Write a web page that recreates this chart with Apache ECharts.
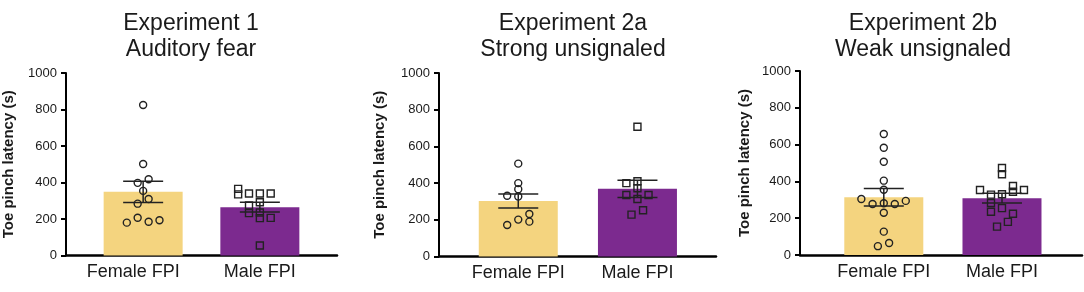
<!DOCTYPE html>
<html>
<head>
<meta charset="utf-8">
<script src="https://cdn.jsdelivr.net/npm/echarts@6/dist/echarts.min.js"></script>
<style>
  html, body { margin: 0; padding: 0; background: #fff; }
  #chart { width: 1084px; height: 292px; }
</style>
</head>
<body>
<div id="chart"></div>
<script>
// ---------- data ----------
const categories = ['Female FPI', 'Male FPI'];
const panelTitles = ['Experiment 1\nAuditory fear', 'Experiment 2a\nStrong unsignaled', 'Experiment 2b\nWeak unsignaled'];
const yAxisName = 'Toe pinch latency (s)';
const yMin = 0, yMax = 1000, yStep = 200;

// bar means and SEM
const exp1Means = [349, 265];
const exp1Sem = [58, 27];
const exp2aMeans = [302, 369];
const exp2aSem = [38, 47];
const exp2bMeans = [314, 309];
const exp2bSem = [48, 26];

// individual animals: values and horizontal jitter (in category units)
const exp1FemaleValues = [825, 501, 398, 418, 354, 310, 284, 180, 207, 185, 193];
const exp1FemaleJitter = [0, 0, -0.047, 0.047, 0, 0.047, -0.047, -0.14, -0.047, 0.047, 0.14];
const exp1MaleValues = [365, 335, 340, 340, 340, 292, 274, 232, 236, 205, 206, 55];
const exp1MaleJitter = [-0.186, -0.186, -0.093, 0, 0.093, 0, -0.093, -0.093, 0, 0, 0.093, 0];

const exp2aFemaleValues = [506, 400, 367, 331, 327, 232, 190, 201, 172];
const exp2aFemaleJitter = [0, 0, 0, -0.093, 0, 0.093, 0.093, 0, -0.093];
const exp2aMaleValues = [707, 400, 410, 372, 335, 313, 335, 228, 252];
const exp2aMaleJitter = [0, -0.093, 0, 0, -0.093, 0, 0.093, -0.05, 0.047];

const exp2bFemaleValues = [658, 583, 507, 404, 355, 304, 277, 281, 277, 294, 230, 127, 48, 65];
const exp2bFemaleJitter = [0, 0, 0, 0, 0, -0.19, -0.095, 0, 0.093, 0.186, 0, 0, -0.05, 0.045];
const exp2bMaleValues = [473, 439, 353, 328, 330, 375, 344, 353, 283, 255, 235, 224, 180, 154];
const exp2bMaleJitter = [0, 0, -0.186, -0.093, 0, 0.093, 0.093, 0.186, -0.093, 0, -0.093, 0.093, 0.05, -0.042];

// ---------- styling / layout ----------
const FONT = '"Liberation Sans", Arial, Helvetica, sans-serif';
const TEXT = '#1a1a1a';
const FEMALE_COLOR = '#F4D47F';
const MALE_COLOR = '#7C2A8F';
const POINT_COLOR = '#222';

const panels = [
  { title: panelTitles[0], means: exp1Means, sem: exp1Sem,
    fv: exp1FemaleValues, fj: exp1FemaleJitter, mv: exp1MaleValues, mj: exp1MaleJitter,
    grid: { left: 63, top: 73, width: 274, height: 182.5 }, xMin: -0.661, xMax: 1.661,
    titleX: 186, nameGap: 50, shiftFirst: 20 },
  { title: panelTitles[1], means: exp2aMeans, sem: exp2aSem,
    fv: exp2aFemaleValues, fj: exp2aFemaleJitter, mv: exp2aMaleValues, mj: exp2aMaleJitter,
    grid: { left: 439, top: 73, width: 277, height: 183.5 }, xMin: -0.665, xMax: 1.659,
    titleX: 568, nameGap: 52, shiftFirst: 0 },
  { title: panelTitles[2], means: exp2bMeans, sem: exp2bSem,
    fv: exp2bFemaleValues, fj: exp2bFemaleJitter, mv: exp2bMaleValues, mj: exp2bMaleJitter,
    grid: { left: 800, top: 71, width: 282, height: 184 }, xMin: -0.709, xMax: 1.677,
    titleX: 918, nameGap: 48, shiftFirst: 0 }
];

const option = {
  animation: false,
  backgroundColor: '#fff',
  title: [], grid: [], xAxis: [], yAxis: [], series: []
};

panels.forEach((p, i) => {
  option.title.push({
    text: p.title, left: p.titleX, top: 6, textAlign: 'center',
    textStyle: { fontFamily: FONT, fontSize: 23, fontWeight: 'normal', color: TEXT, lineHeight: 26 }
  });
  option.grid.push(Object.assign({ containLabel: false }, p.grid));
  option.xAxis.push({
    type: 'value', gridIndex: i, min: p.xMin, max: p.xMax,
    splitLine: { show: false },
    axisLine: { show: true, onZero: false, lineStyle: { color: '#000', width: 2.5 } },
    axisTick: { show: false },
    axisLabel: {
      customValues: [0, 1],
      margin: 8,
      fontFamily: FONT, fontSize: 18, color: TEXT,
      formatter: (v) => {
        const idx = Math.round(v);
        if (idx === 0 && p.shiftFirst) return '{s|' + categories[0] + '}';
        return categories[idx] || '';
      },
      rich: { s: { fontFamily: FONT, fontSize: 18, color: TEXT, padding: [0, p.shiftFirst, 0, 0] } }
    }
  });
  option.yAxis.push({
    type: 'value', gridIndex: i, min: yMin, max: yMax, interval: yStep,
    name: yAxisName, nameLocation: 'middle', nameGap: p.nameGap, nameRotate: 90,
    nameTextStyle: { fontFamily: FONT, fontSize: 15, fontWeight: 'bold', color: TEXT },
    splitLine: { show: false },
    axisLine: { show: true, onZero: false, lineStyle: { color: '#000', width: 2 } },
    axisTick: { show: true, length: 5, lineStyle: { color: '#000', width: 2 } },
    axisLabel: { fontFamily: FONT, fontSize: 13, color: TEXT, margin: 9, formatter: (v) => String(v) }
  });

  // bars
  option.series.push({
    type: 'bar', xAxisIndex: i, yAxisIndex: i, barWidth: 79, z: 1,
    data: p.means.map((m, k) => ({ value: [k, m], itemStyle: { color: k === 0 ? FEMALE_COLOR : MALE_COLOR } }))
  });
  // error bars
  option.series.push({
    type: 'custom', xAxisIndex: i, yAxisIndex: i, z: 3,
    data: p.means.map((m, k) => [k, m, p.sem[k]]),
    renderItem: (params, api) => {
      const x = api.value(0), m = api.value(1), s = api.value(2);
      const top = api.coord([x, m + s]);
      const bot = api.coord([x, m - s]);
      const hw = 20;
      const st = { stroke: '#222', lineWidth: 1.5 };
      return {
        type: 'group', children: [
          { type: 'line', shape: { x1: top[0], y1: top[1], x2: bot[0], y2: bot[1] }, style: st },
          { type: 'line', shape: { x1: top[0] - hw, y1: top[1], x2: top[0] + hw, y2: top[1] }, style: st },
          { type: 'line', shape: { x1: bot[0] - hw, y1: bot[1], x2: bot[0] + hw, y2: bot[1] }, style: st }
        ]
      };
    }
  });
  // female points
  option.series.push({
    type: 'scatter', xAxisIndex: i, yAxisIndex: i, z: 4,
    symbol: 'circle', symbolSize: 7,
    itemStyle: { color: 'rgba(0,0,0,0)', borderColor: POINT_COLOR, borderWidth: 1.4, opacity: 1 },
    data: p.fv.map((v, k) => [0 + p.fj[k], v])
  });
  // male points
  option.series.push({
    type: 'scatter', xAxisIndex: i, yAxisIndex: i, z: 4,
    symbol: 'rect', symbolSize: 7,
    itemStyle: { color: 'rgba(0,0,0,0)', borderColor: POINT_COLOR, borderWidth: 1.4, opacity: 1 },
    data: p.mv.map((v, k) => [1 + p.mj[k], v])
  });
});

const chart = echarts.init(document.getElementById('chart'), null, { renderer: 'canvas' });
chart.setOption(option);
</script>
</body>
</html>
